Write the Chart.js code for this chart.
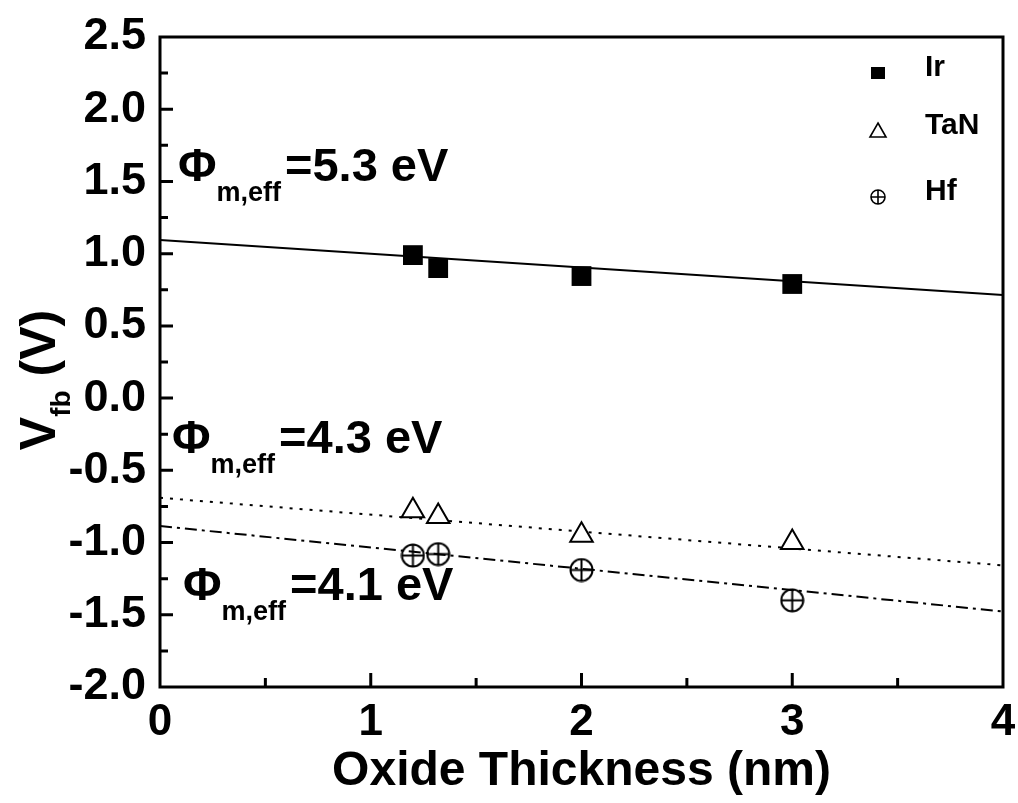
<!DOCTYPE html>
<html><head><meta charset="utf-8">
<script src="https://cdn.jsdelivr.net/npm/chart.js@4.4.1/dist/chart.umd.min.js"></script>
<style>html,body{margin:0;padding:0;background:#fff}canvas{display:block}</style>
</head><body>
<canvas id="c" width="1018" height="803"></canvas>
<script>
// ---- data ----
const thickness = [1.2, 1.32, 2.0, 3.0];
const vfbIr  = [0.99, 0.90, 0.845, 0.79];
const vfbTaN = [-0.78, -0.82, -0.95, -1.00];
const vfbHf  = [-1.09, -1.08, -1.19, -1.40];
const fitX   = [0, 4];
const fitIr  = [1.094, 0.713];
const fitTaN = [-0.69, -1.158];
const fitHf  = [-0.886, -1.477];
const seriesNames = ['Ir', 'TaN', 'Hf'];
const workFunctionLabels = ['=5.3 eV', '=4.3 eV', '=4.1 eV'];
const xTickValues = [0, 1, 2, 3, 4];
const yTickValues = [-2.0, -1.5, -1.0, -0.5, 0.0, 0.5, 1.0, 1.5, 2.0, 2.5];
const xTitle = 'Oxide Thickness (nm)';

const FONT = '"Liberation Sans", Arial, Helvetica, sans-serif';
const pts = (xs, ys) => xs.map((x, i) => ({x, y: ys[i]}));

function circlePlus(d, lw) {
  const c = document.createElement('canvas');
  c.width = c.height = d;
  const g = c.getContext('2d');
  const r = d / 2 - lw / 2 - 0.5;
  g.strokeStyle = '#000'; g.lineWidth = lw;
  g.beginPath();
  g.arc(d / 2, d / 2, r, 0, 2 * Math.PI);
  g.moveTo(d / 2, d / 2 - r); g.lineTo(d / 2, d / 2 + r);
  g.moveTo(d / 2 - r, d / 2); g.lineTo(d / 2 + r, d / 2);
  g.stroke();
  return c;
}
const hfMarker = circlePlus(25, 2);

const framePlugin = {
  id: 'frame',
  afterDatasetsDraw(chart) {
    const {ctx, chartArea: a, scales: {x, y}} = chart;
    ctx.save();
    ctx.strokeStyle = '#000';
    ctx.lineWidth = 3;
    ctx.strokeRect(a.left, a.top, a.right - a.left, a.bottom - a.top);
    ctx.beginPath();
    for (let i = 0; i < xTickValues.length; i++) {
      const px = x.getPixelForValue(xTickValues[i]);
      if (i > 0 && i < xTickValues.length - 1) { ctx.moveTo(px, a.bottom); ctx.lineTo(px, a.bottom - 14); }
      if (i < xTickValues.length - 1) {
        const pm = x.getPixelForValue((xTickValues[i] + xTickValues[i + 1]) / 2);
        ctx.moveTo(pm, a.bottom); ctx.lineTo(pm, a.bottom - 9);
      }
    }
    for (let i = 0; i < yTickValues.length; i++) {
      const py = y.getPixelForValue(yTickValues[i]);
      if (i > 0 && i < yTickValues.length - 1) { ctx.moveTo(a.left, py); ctx.lineTo(a.left + 13, py); }
      if (i < yTickValues.length - 1) {
        const pm = y.getPixelForValue((yTickValues[i] + yTickValues[i + 1]) / 2);
        ctx.moveTo(a.left, pm); ctx.lineTo(a.left + 8, pm);
      }
    }
    ctx.stroke();
    ctx.restore();
  }
};

const annotationPlugin = {
  id: 'phiLabels',
  afterDatasetsDraw(chart, args, opts) {
    const {ctx, scales: {x, y}} = chart;
    ctx.save();
    ctx.fillStyle = '#000';
    ctx.textBaseline = 'alphabetic';
    ctx.textAlign = 'left';
    opts.items.forEach((it, i) => {
      const px = x.getPixelForValue(it.x), py = y.getPixelForValue(it.y);
      ctx.font = 'bold 47px ' + FONT;
      ctx.fillText('\u03A6', px, py);
      const wPhi = ctx.measureText('\u03A6').width;
      ctx.font = 'bold 27px ' + FONT;
      ctx.fillText('m,eff', px + wPhi, py + 20);
      const wSub = ctx.measureText('m,eff').width;
      ctx.font = 'bold 47px ' + FONT;
      ctx.fillText(workFunctionLabels[i], px + wPhi + wSub + 4, py);
    });
    ctx.restore();
  }
};

const legendPlugin = {
  id: 'insideLegend',
  afterDatasetsDraw(chart) {
    const {ctx, chartArea: a} = chart;
    ctx.save();
    ctx.fillStyle = '#000'; ctx.strokeStyle = '#000';
    const mx = a.right - 125, tx = a.right - 78;
    const rows = [a.top + 31, a.top + 89, a.top + 155];
    seriesNames.forEach((name, i) => {
      const cy = rows[i];
      const my = cy + 5;
      ctx.lineWidth = 1.6;
      if (i === 0) {
        ctx.fillRect(mx - 7, my - 6, 14, 12);
      } else if (i === 1) {
        ctx.beginPath();
        ctx.moveTo(mx, my - 8); ctx.lineTo(mx + 8, my + 6); ctx.lineTo(mx - 8, my + 6); ctx.closePath();
        ctx.stroke();
      } else {
        ctx.beginPath();
        ctx.arc(mx, my, 7, 0, 2 * Math.PI);
        ctx.moveTo(mx, my - 7); ctx.lineTo(mx, my + 7);
        ctx.moveTo(mx - 7, my); ctx.lineTo(mx + 7, my);
        ctx.stroke();
      }
      ctx.font = 'bold 30px ' + FONT;
      ctx.textBaseline = 'middle';
      ctx.textAlign = 'left';
      ctx.fillText(name, tx, cy);
    });
    ctx.restore();
  }
};

const yTitlePlugin = {
  id: 'yTitle',
  afterDraw(chart) {
    const {ctx} = chart;
    ctx.save();
    ctx.fillStyle = '#000';
    ctx.translate(0, 380);
    ctx.rotate(-Math.PI / 2);
    ctx.textBaseline = 'alphabetic';
    ctx.textAlign = 'left';
    const big = 'bold 50px ' + FONT, small = 'bold 28px ' + FONT;
    ctx.font = big; const wV = ctx.measureText('V').width; const wP = ctx.measureText(' (V)').width;
    ctx.font = small; const wS = ctx.measureText('fb').width;
    let sx = -(wV + wS + wP) / 2;
    ctx.font = big; ctx.fillText('V', sx, 55); sx += wV;
    ctx.font = small; ctx.fillText('fb', sx, 70); sx += wS;
    ctx.font = big; ctx.fillText(' (V)', sx, 55);
    ctx.restore();
  }
};

new Chart(document.getElementById('c'), {
  type: 'scatter',
  data: {
    datasets: [
      {label: seriesNames[0], data: pts(thickness, vfbIr), pointStyle: 'rect', pointRadius: 14, pointHoverRadius: 14,
       backgroundColor: '#000', borderColor: '#000', borderWidth: 0},
      {label: seriesNames[1], data: pts(thickness, vfbTaN), pointStyle: 'triangle', pointRadius: 13, pointHoverRadius: 13,
       backgroundColor: '#fff', borderColor: '#000', borderWidth: 2},
      {label: seriesNames[2], data: pts(thickness, vfbHf), pointStyle: hfMarker, pointRadius: 12,
       backgroundColor: '#fff', borderColor: '#000', borderWidth: 2},
      {label: 'fit Ir', type: 'line', data: pts(fitX, fitIr), borderColor: '#000', borderWidth: 2, pointRadius: 0, fill: false, order: 5},
      {label: 'fit TaN', type: 'line', data: pts(fitX, fitTaN), borderColor: '#000', borderWidth: 2, borderDash: [3, 7], pointRadius: 0, fill: false, order: 5},
      {label: 'fit Hf', type: 'line', data: pts(fitX, fitHf), borderColor: '#000', borderWidth: 2, borderDash: [12, 5, 3, 5], pointRadius: 0, fill: false, order: 5}
    ]
  },
  options: {
    responsive: false,
    animation: false,
    devicePixelRatio: 1,
    layout: {padding: {left: 0, right: 15, top: 37, bottom: 0}},
    plugins: {
      legend: {display: false},
      tooltip: {enabled: false},
      phiLabels: {items: [
        {x: 0.085, y: 1.5},
        {x: 0.057, y: -0.38},
        {x: 0.109, y: -1.40}
      ]}
    },
    scales: {
      x: {
        type: 'linear', min: 0, max: 4,
        grid: {display: false, drawTicks: false},
        border: {display: false},
        afterBuildTicks: s => { s.ticks = xTickValues.map(v => ({value: v})); },
        afterFit: s => { s.height = 116; s.paddingLeft = 0; s.paddingRight = 0; },
        ticks: {color: '#000', padding: 9, font: {family: FONT, size: 44, weight: 'bold'},
                callback: v => String(v), maxRotation: 0, autoSkip: false},
        title: {display: true, text: xTitle, color: '#000', padding: {top: 0, bottom: 2},
                font: {family: FONT, size: 48, weight: 'bold'}}
      },
      y: {
        type: 'linear', min: -2, max: 2.5,
        grid: {display: false, drawTicks: false},
        border: {display: false},
        afterBuildTicks: s => { s.ticks = yTickValues.map(v => ({value: v})); },
        afterFit: s => { s.width = 160; s.paddingTop = 0; s.paddingBottom = 0; },
        ticks: {color: '#000', padding: 14, font: {family: FONT, size: 45, weight: 'bold'},
                callback: v => Number(v).toFixed(1), autoSkip: false}
      }
    }
  },
  plugins: [framePlugin, annotationPlugin, legendPlugin, yTitlePlugin]
});
</script>
</body></html>
